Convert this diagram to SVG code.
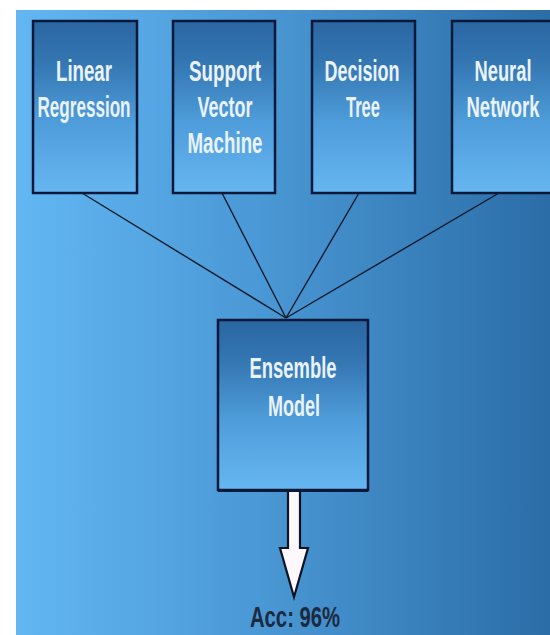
<svg xmlns="http://www.w3.org/2000/svg" width="550" height="635" viewBox="0 0 550 635">
  <defs>
    <linearGradient id="bg" x1="0" y1="0" x2="1" y2="0">
      <stop offset="0" stop-color="#62b7f3"/>
      <stop offset="0.45" stop-color="#4a98d5"/>
      <stop offset="1" stop-color="#2a6ca6"/>
    </linearGradient>
    <linearGradient id="box" x1="0" y1="0" x2="0" y2="1">
      <stop offset="0" stop-color="#2a66a2"/>
      <stop offset="0.25" stop-color="#3477b3"/>
      <stop offset="0.6" stop-color="#4f9edb"/>
      <stop offset="1" stop-color="#66b6f2"/>
    </linearGradient>
  </defs>
  <style>
    .node rect { fill: url(#box); stroke: #0b1838; stroke-width: 2.5; }
    .lbl { font-family: "Liberation Sans", Arial, sans-serif; font-size: 20px; font-weight: bold; fill: #eaf2fa; text-anchor: middle; }
    .conn line { stroke: #0d1a2a; stroke-width: 1.4; }
    .acc { font-family: "Liberation Sans", Arial, sans-serif; font-size: 20px; font-weight: bold; fill: #1b2a3e; text-anchor: middle; }
  </style>
  <rect x="0" y="0" width="550" height="635" fill="#ffffff"/>
  <rect x="16" y="10" width="540" height="630" fill="url(#bg)"/>

  <g id="connectors" class="conn">
    <line x1="82" y1="193" x2="286" y2="318"/>
    <line x1="222" y1="193" x2="286" y2="318"/>
    <line x1="359" y1="193" x2="286" y2="318"/>
    <line x1="499" y1="193" x2="286" y2="318"/>
    <path d="M288,491 L300,491 L300,548 L308,548 L294,597 L280,548 L288,548 Z" fill="#fdf8fb" stroke="#0d1320" stroke-width="2.2" stroke-linejoin="miter"/>
  </g>

  <g id="linear-regression" class="node">
    <rect x="33" y="21" width="104" height="172"/>
    <text class="lbl" transform="translate(84,81) scale(1,1.5)" textLength="56" lengthAdjust="spacingAndGlyphs">Linear</text>
    <text class="lbl" transform="translate(84,117) scale(1,1.5)" textLength="93" lengthAdjust="spacingAndGlyphs">Regression</text>
  </g>
  <g id="svm" class="node">
    <rect x="173" y="21" width="102" height="172"/>
    <text class="lbl" transform="translate(225,81) scale(1,1.5)" textLength="72" lengthAdjust="spacingAndGlyphs">Support</text>
    <text class="lbl" transform="translate(225,117) scale(1,1.5)" textLength="55" lengthAdjust="spacingAndGlyphs">Vector</text>
    <text class="lbl" transform="translate(225,153) scale(1,1.5)" textLength="75" lengthAdjust="spacingAndGlyphs">Machine</text>
  </g>
  <g id="decision-tree" class="node">
    <rect x="312" y="21" width="103" height="172"/>
    <text class="lbl" transform="translate(362,81) scale(1,1.5)" textLength="75" lengthAdjust="spacingAndGlyphs">Decision</text>
    <text class="lbl" transform="translate(363,117) scale(1,1.5)" textLength="34" lengthAdjust="spacingAndGlyphs">Tree</text>
  </g>
  <g id="neural-network" class="node">
    <rect x="452" y="21" width="104" height="172"/>
    <text class="lbl" transform="translate(503,81) scale(1,1.5)" textLength="57" lengthAdjust="spacingAndGlyphs">Neural</text>
    <text class="lbl" transform="translate(503,117) scale(1,1.5)" textLength="73" lengthAdjust="spacingAndGlyphs">Network</text>
  </g>
  <g id="ensemble-model" class="node">
    <rect x="218" y="320" width="150" height="170"/>
    <line x1="218" y1="491" x2="368" y2="491" stroke="#0b1838" stroke-width="2"/>
    <text class="lbl" transform="translate(293,378) scale(1,1.5)" textLength="87" lengthAdjust="spacingAndGlyphs">Ensemble</text>
    <text class="lbl" transform="translate(294,416) scale(1,1.5)" textLength="52" lengthAdjust="spacingAndGlyphs">Model</text>
  </g>
  <g id="accuracy">
    <text class="acc" transform="translate(295,627) scale(1,1.45)" textLength="90" lengthAdjust="spacingAndGlyphs">Acc: 96%</text>
  </g>
</svg>
